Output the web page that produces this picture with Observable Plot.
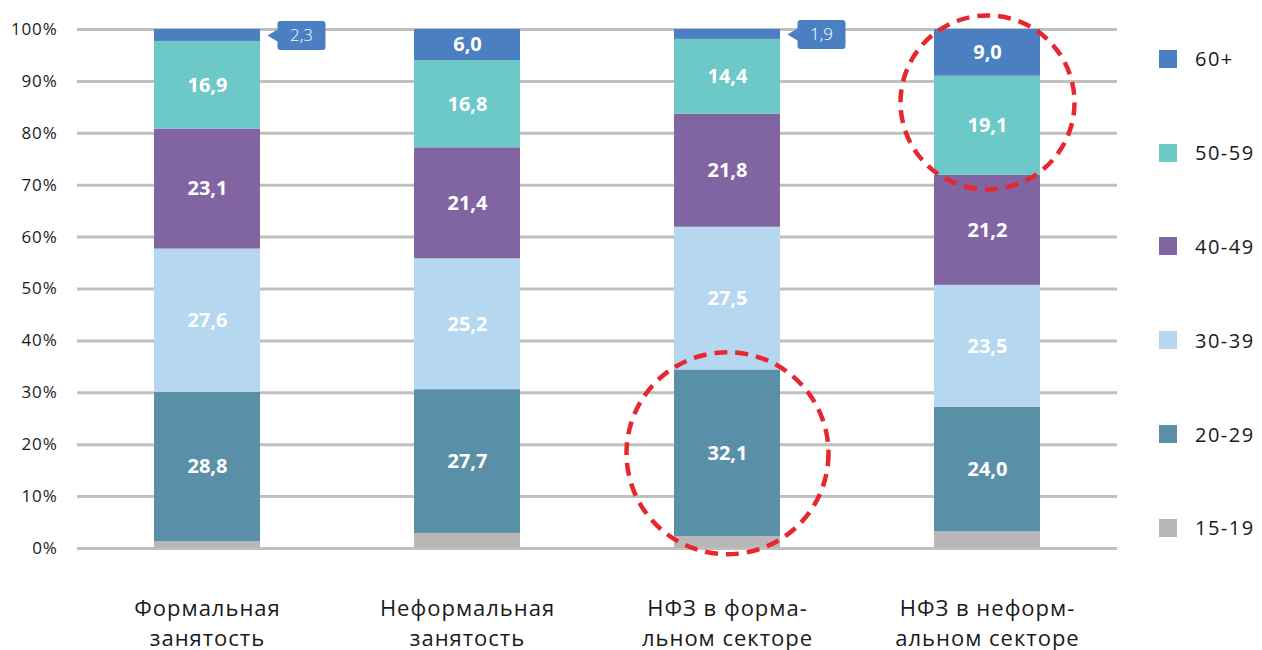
<!DOCTYPE html>
<html>
<head>
<meta charset="utf-8">
<script src="https://cdn.jsdelivr.net/npm/d3@7"></script>
<script src="https://cdn.jsdelivr.net/npm/@observablehq/plot@0.6"></script>
<style>
  html, body { margin: 0; padding: 0; background: #fff; }
  #wrap { position: relative; width: 1262px; height: 650px; font-family: "Open Sans", sans-serif; }
  #legend { position: absolute; left: 1159px; top: 12px; display: flex; flex-direction: column; }
  #legend .row { height: 93.8px; display: flex; align-items: center; font-size: 20px; color: #1a1a1a; letter-spacing: 1.5px; }
  #legend .sw { width: 18px; height: 18px; margin-right: 18px; }
  svg g[aria-label="x-axis tick label"] text { letter-spacing: 1px; }
  svg g[aria-label="y-axis tick label"] text { letter-spacing: 0.8px; }
</style>
</head>
<body>
<div id="wrap"><div id="chart"></div><div id="legend"></div></div>
<script>
// ---- data ----
const categories = ["Формальная занятость", "Неформальная занятость", "НФЗ в формальном секторе", "НФЗ в неформальном секторе"];
const tickLabels = ["Формальная\nзанятость", "Неформальная\nзанятость", "НФЗ в форма-\nльном секторе", "НФЗ в неформ-\nальном секторе"];
const ageGroups = ["15-19", "20-29", "30-39", "40-49", "50-59", "60+"];
const legendOrder = ["60+", "50-59", "40-49", "30-39", "20-29", "15-19"];
const v15_19 = [1.3, 2.9, 2.3, 3.2];
const v20_29 = [28.8, 27.7, 32.1, 24.0];
const v30_39 = [27.6, 25.2, 27.5, 23.5];
const v40_49 = [23.1, 21.4, 21.8, 21.2];
const v50_59 = [16.9, 16.8, 14.4, 19.1];
const v60plus = [2.3, 6.0, 1.9, 9.0];
const yTicks = [0, 10, 20, 30, 40, 50, 60, 70, 80, 90, 100];
const colors = ["#b8b8b9", "#5990a8", "#b5d7f0", "#8165a3", "#6cc9c7", "#4a7fc2"];
// callouts: 60+ values shown in a box beside the bar
const calloutCats = ["Формальная занятость", "НФЗ в формальном секторе"];
// highlighted (circled) segments
const highlights = [
  {cat: "НФЗ в неформальном секторе", ages: ["50-59", "60+"], r: 87},
  {cat: "НФЗ в формальном секторе", ages: ["20-29"], r: 101}
];

// ---- build table ----
const series = [v15_19, v20_29, v30_39, v40_49, v50_59, v60plus];
const data = [];
categories.forEach((cat, i) => {
  let cum = 0;
  ageGroups.forEach((age, j) => {
    const value = series[j][i];
    data.push({cat, age, value, lo: cum, hi: cum + value});
    cum += value;
  });
});
const fmt = v => d3.format(".1f")(v).replace(".", ",");
const calloutData = data.filter(d => d.age === "60+" && calloutCats.includes(d.cat))
  .map(d => ({...d, mid: (d.lo + d.hi) / 2}));
const circleData = highlights.map(h => {
  const segs = data.filter(d => d.cat === h.cat && h.ages.includes(d.age));
  const lo = d3.min(segs, d => d.lo), hi = d3.max(segs, d => d.hi);
  return {cat: h.cat, mid: (lo + hi) / 2, r: h.r};
});

// callout shape: pointer tip at the symbol origin, rounded box to the right
const calloutSymbol = {
  draw(ctx) {
    const p = 10, w = 48, h = 29, rr = 3, hh = h / 2, ph = 6;
    ctx.moveTo(0, 0);
    ctx.lineTo(p, -ph);
    ctx.lineTo(p, -hh + rr);
    ctx.arcTo(p, -hh, p + rr, -hh, rr);
    ctx.lineTo(p + w - rr, -hh);
    ctx.arcTo(p + w, -hh, p + w, -hh + rr, rr);
    ctx.lineTo(p + w, hh - rr);
    ctx.arcTo(p + w, hh, p + w - rr, hh, rr);
    ctx.lineTo(p + rr, hh);
    ctx.arcTo(p, hh, p, hh - rr, rr);
    ctx.lineTo(p, ph);
    ctx.closePath();
  }
};

const chart = Plot.plot({
  width: 1262,
  height: 650,
  marginLeft: 77,
  marginRight: 145,
  marginTop: 29,
  marginBottom: 102,
  style: {fontFamily: "'Open Sans', sans-serif", color: "#1a1a1a", background: "#fff"},
  x: {domain: categories, paddingInner: 0.592, paddingOuter: 0.296, label: null},
  y: {domain: [0, 100], label: null},
  color: {domain: ageGroups, range: colors},
  marks: [
    Plot.gridY(yTicks, {stroke: "#c0c0c0", strokeWidth: 3, strokeOpacity: 1}),
    Plot.axisY(yTicks, {tickSize: 0, tickPadding: 20, fontSize: 17, tickFormat: d => d + "%", label: null}),
    Plot.axisX({tickSize: 0, tickPadding: 46, fontSize: 22, lineHeight: 1.36,
      tickFormat: d => tickLabels[categories.indexOf(d)], label: null}),
    Plot.barY(data, {x: "cat", y: "value", fill: "age", z: "age", order: ageGroups}),
    Plot.text(data, Plot.stackY({x: "cat", y: "value", z: "age", order: ageGroups,
      text: d => (d.age !== "15-19" && !(d.age === "60+" && calloutCats.includes(d.cat))) ? fmt(d.value) : null,
      fill: "#fff", fontSize: 20, fontWeight: "bold"})),
    Plot.dot(calloutData, {x: "cat", y: "mid", symbol: calloutSymbol, r: 10, dx: 60,
      fill: "#4a7fc2", stroke: "none"}),
    Plot.text(calloutData, {x: "cat", y: "mid", text: d => fmt(d.value), dx: 94,
      fill: "#fff", fontSize: 17, fontWeight: 300}),
    Plot.dot(circleData, {x: "cat", y: "mid", r: d => d.r, fill: "none", stroke: "#e8262d",
      strokeWidth: 4.5, strokeDasharray: "13 8"})
  ],
  r: {type: "identity"}
});
document.getElementById("chart").appendChild(chart);

const legend = d3.select("#legend");
legendOrder.forEach(age => {
  const row = legend.append("div").attr("class", "row");
  row.append("div").attr("class", "sw").style("background", colors[ageGroups.indexOf(age)]);
  row.append("span").text(age);
});
</script>
</body>
</html>
